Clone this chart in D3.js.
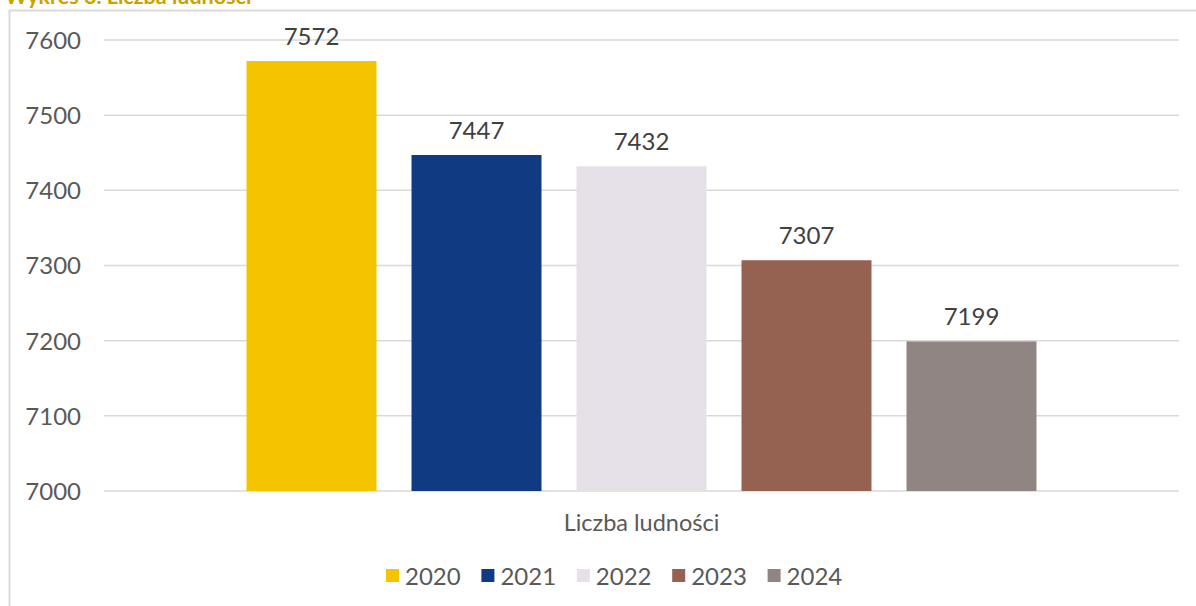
<!DOCTYPE html>
<html><head><meta charset="utf-8">
<script src="https://cdn.jsdelivr.net/npm/d3@7"></script>
<style>
html,body{margin:0;padding:0;background:#fff;overflow:hidden;}
svg{display:block;font-family:Lato,"Open Sans",sans-serif;}
</style></head>
<body><svg id="c" width="1196" height="606"></svg>
<script>
const title = "Wykres 6. Liczba ludności";
const category = "Liczba ludności";
const years = ["2020","2021","2022","2023","2024"];
const values = [7572, 7447, 7432, 7307, 7199];
const colors = ["#F5C400","#103A82","#E6E1E8","#956251","#918583"];
const yTicks = [7000,7100,7200,7300,7400,7500,7600];

const svg = d3.select("#c");
// frame
svg.append("rect").attr("x",9.5).attr("y",10.5).attr("width",1200).attr("height",620)
  .attr("fill","#fff").attr("stroke","#d9d9d9").attr("stroke-width",2);
// title (partly cut, as in the reference)
svg.append("text").attr("x",5).attr("y",4).attr("font-size",21.5).attr("font-weight",700)
  .attr("fill","#C9A100").text(title);

const plotL = 104, plotR = 1179;
const y = d3.scaleLinear().domain([7000,7600]).range([491,40]);
const xCat = d3.scaleBand().domain([category]).range([plotL,plotR]).paddingInner(0).paddingOuter(0.1804);
const x = d3.scaleBand().domain(years).range([xCat(category), xCat(category)+xCat.bandwidth()]).paddingInner(35/165).paddingOuter(0);

// gridlines
svg.append("g").selectAll("line").data(yTicks).join("line")
  .attr("x1",plotL).attr("x2",plotR).attr("y1",d=>y(d)).attr("y2",d=>y(d))
  .attr("stroke","#d9d9d9").attr("stroke-width",1.5);

// y axis labels
const yAxis = d3.axisLeft(y).tickValues(yTicks).tickFormat(d3.format("d")).tickSize(0).tickPadding(0);
const gy = svg.append("g").attr("transform","translate(81,0)").call(yAxis);
gy.select(".domain").remove();
gy.selectAll("text").attr("font-size",24).attr("fill","#595959").attr("font-family","Lato,sans-serif").attr("dy","0.35em");

// bars
svg.append("g").selectAll("rect").data(years).join("rect")
  .attr("x",d=>x(d)).attr("width",x.bandwidth())
  .attr("y",(d,i)=>y(values[i])).attr("height",(d,i)=>y(7000)-y(values[i]))
  .attr("fill",(d,i)=>colors[i]);

// value labels
svg.append("g").selectAll("text").data(years).join("text")
  .attr("x",d=>x(d)+x.bandwidth()/2).attr("y",(d,i)=>y(values[i])-16.5)
  .attr("text-anchor","middle").attr("font-size",24).attr("fill","#404040")
  .text((d,i)=>values[i]);

// category label
svg.append("text").attr("x",xCat(category)+xCat.bandwidth()/2).attr("y",531)
  .attr("text-anchor","middle").attr("font-size",23.5).attr("fill","#595959").text(category);

// legend
const lg = svg.append("g").selectAll("g").data(years).join("g")
  .attr("transform",(d,i)=>`translate(${386+i*95.4},0)`);
lg.append("rect").attr("x",0).attr("y",569).attr("width",13).attr("height",13).attr("fill",(d,i)=>colors[i]);
lg.append("text").attr("x",19).attr("y",584.5).attr("font-size",24).attr("fill","#595959").text(d=>d);
</script></body></html>
